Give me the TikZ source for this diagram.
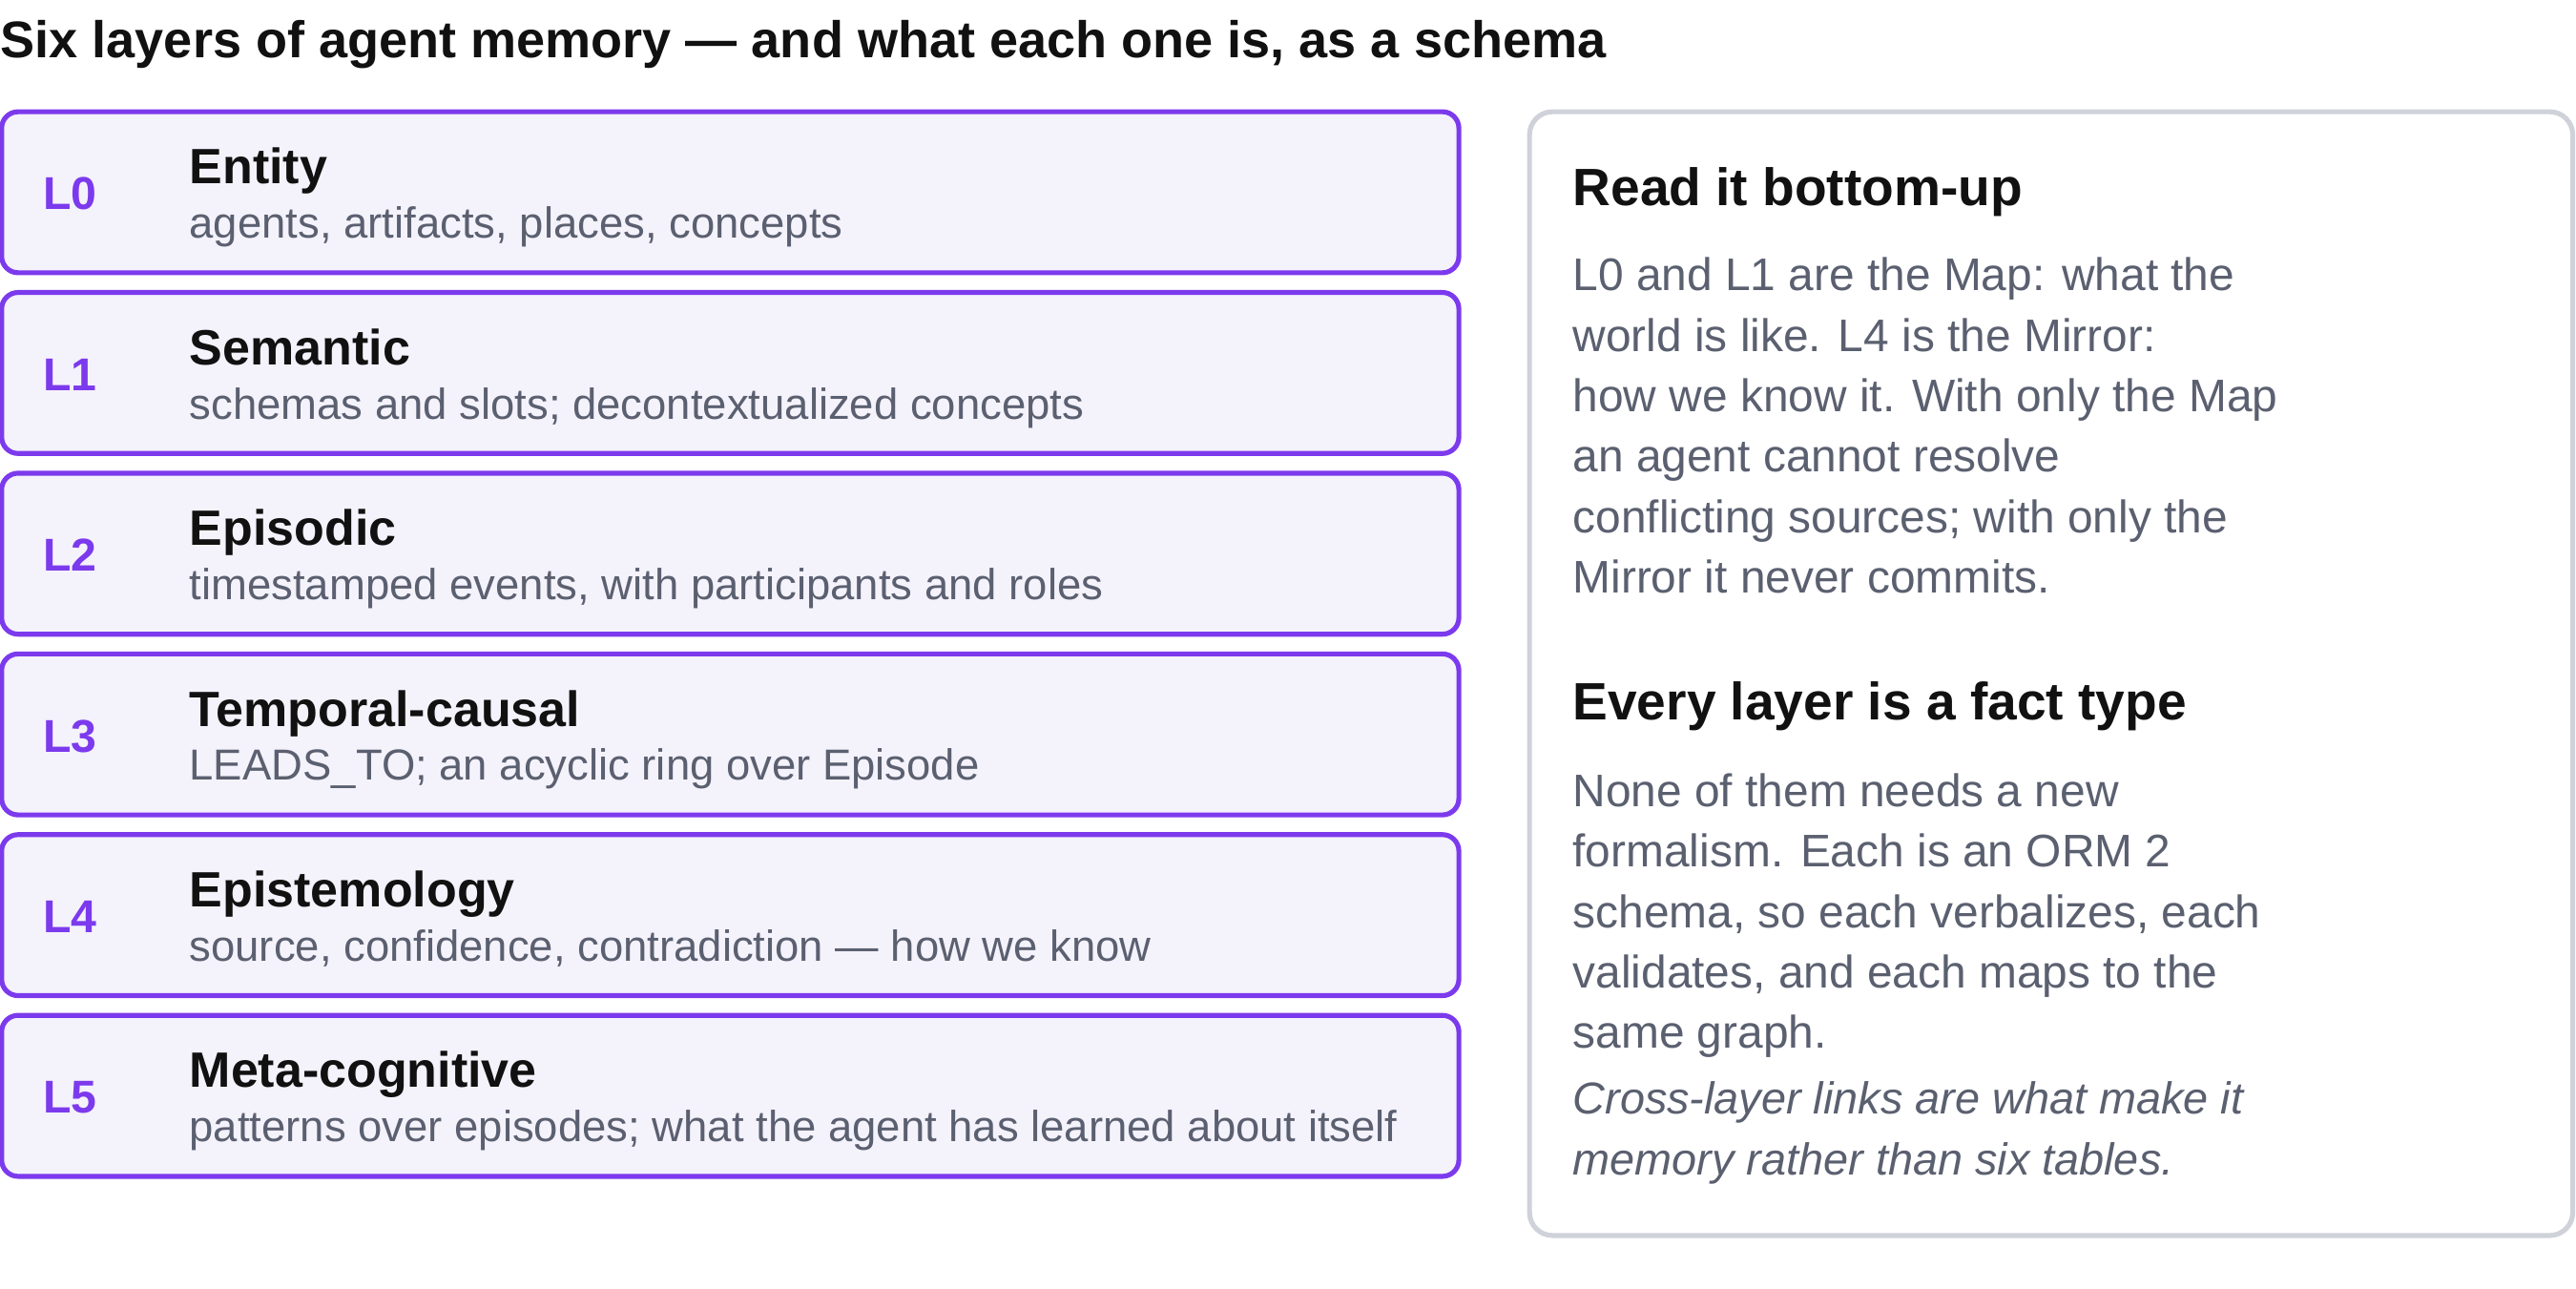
\documentclass[tikz,border=0pt]{standalone}
\usepackage{fontspec}
\setmainfont{Liberation Sans}
\definecolor{purp}{HTML}{7C3AED}
\definecolor{lfill}{HTML}{F4F2FB}
\definecolor{txt}{HTML}{111111}
\definecolor{sub}{HTML}{5B6070}
\definecolor{pan}{HTML}{D0D2DA}
\begin{document}
\begin{tikzpicture}[x=0.5pt,y=-0.5pt,
  layer/.style={draw=purp,line width=1.5pt,fill=lfill,rounded corners=5pt},
  lid/.style={anchor=west,text=purp,font=\fontsize{14}{16}\selectfont\bfseries},
  ltitle/.style={anchor=base west,text=txt,font=\fontsize{15.1}{17}\selectfont\bfseries},
  lsub/.style={anchor=base west,text=sub,font=\fontsize{13.2}{15}\selectfont},
  head/.style={anchor=base west,text=txt,font=\fontsize{16}{18}\selectfont\bfseries},
  body/.style={anchor=base west,text=sub,font=\fontsize{13.9}{16}\selectfont}]
\useasboundingbox (0,0) rectangle (1568,784);
\node[anchor=base west,text=txt,font=\fontsize{15.7}{18}\selectfont\bfseries,inner sep=0pt] (title) at (0,35) {Six layers of agent memory — and what each one is, as a schema};
\foreach \i/\t/\s in {0/Entity/{agents, artifacts, places, concepts},
  1/Semantic/{schemas and slots; decontextualized concepts},
  2/Episodic/{timestamped events, with participants and roles},
  3/Temporal-causal/{LEADS\_TO; an acyclic ring over Episode},
  4/Epistemology/{source, confidence, contradiction — how we know},
  5/Meta-cognitive/{patterns over episodes; what the agent has learned about itself}}{
  \pgfmathsetmacro\yt{68+110*\i}
  \draw[layer] (1,\yt) rectangle (888,\yt+98);
  \node[lid,inner sep=0pt] (id\i) at (26,\yt+50) {L\i};
  \node[ltitle,inner sep=0pt] (t\i) at (115,\yt+44) {\t};
  \node[lsub,inner sep=0pt] (s\i) at (115,\yt+77) {\s};
}
\draw[draw=pan,line width=1.5pt,fill=white,rounded corners=7pt] (931,68) rectangle (1566,752);
\node[head,inner sep=0pt] (h1) at (957,125) {Read it bottom-up};
\foreach \l [count=\k from 0] in {L0 and L1 are the Map: what the,world is like. L4 is the Mirror:,how we know it. With only the Map,an agent cannot resolve,conflicting sources; with only the,Mirror it never commits.}
  \node[body,inner sep=0pt] (a\k) at (957,177+36.8*\k) {\l};
\node[head,inner sep=0pt] (h2) at (957,438) {Every layer is a fact type};
\foreach \l [count=\k from 0] in {None of them needs a new,formalism. Each is an ORM 2,{schema, so each verbalizes, each},{validates, and each maps to the},same graph.}
  \node[body,inner sep=0pt] (b\k) at (957,491+36.8*\k) {\l};
\node[body,inner sep=0pt,font=\fontsize{13.6}{16}\selectfont\itshape] (c0) at (957,678) {Cross-layer links are what make it};
\node[body,inner sep=0pt,font=\fontsize{13.6}{16}\selectfont\itshape] (c1) at (957,715) {memory rather than six tables.};
\end{tikzpicture}
\end{document}
